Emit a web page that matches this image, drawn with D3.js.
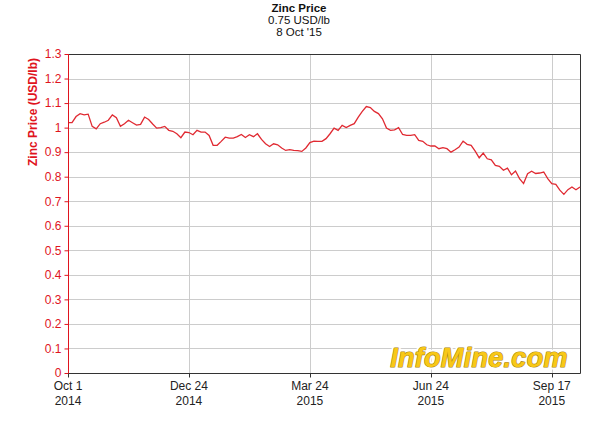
<!DOCTYPE html>
<html lang="en">
<head>
    <meta charset="UTF-8">
    <title>Zinc Price</title>
    <script src="https://cdn.jsdelivr.net/npm/d3@7"></script>
    <style>
        body { margin: 0; background: #fff; }
        text { font-family: "Liberation Sans", Arial, sans-serif; }
    </style>
</head>
<body>
<script>
    // price every second trading day, Oct 1 2014 .. Oct 8 2015
    var prices = [
        1.02, 1.02, 1.045, 1.057, 1.052, 1.055, 1.005, 0.995, 1.016, 1.022,
        1.03, 1.052, 1.04, 1.005, 1.016, 1.03, 1.02, 1.01, 1.013, 1.043,
        1.033, 1.015, 0.998, 1.0, 1.005, 0.989, 0.985, 0.975, 0.959, 0.982,
        0.98, 0.971, 0.989, 0.982, 0.982, 0.968, 0.928, 0.928, 0.944, 0.961,
        0.957, 0.957, 0.963, 0.972, 0.96, 0.971, 0.963, 0.975, 0.952, 0.934,
        0.923, 0.934, 0.93, 0.917, 0.907, 0.91, 0.907, 0.906, 0.903, 0.917,
        0.939, 0.945, 0.944, 0.944, 0.955, 0.975, 0.998, 0.989, 1.009, 1.0,
        1.009, 1.016, 1.043, 1.066, 1.086, 1.082, 1.066, 1.057, 1.036, 0.998,
        0.989, 0.991, 1.0, 0.972, 0.968, 0.968, 0.971, 0.948, 0.944, 0.93,
        0.925, 0.925, 0.914, 0.918, 0.914, 0.90, 0.91, 0.921, 0.945, 0.932,
        0.928, 0.904, 0.877, 0.896, 0.873, 0.869, 0.846, 0.842, 0.826, 0.835,
        0.808, 0.823, 0.792, 0.772, 0.812, 0.822, 0.813, 0.815, 0.819, 0.792,
        0.772, 0.769, 0.745, 0.728, 0.747, 0.758, 0.747, 0.758
    ]
    var tickIndex = [0, 30, 60, 90, 120]
    var tickDay = ['Oct 1', 'Dec 24', 'Mar 24', 'Jun 24', 'Sep 17']
    var tickYear = ['2014', '2014', '2015', '2015', '2015']
    var titleLines = ['Zinc Price', '0.75 USD/lb', "8 Oct '15"]

    var width = 600
    var height = 424
    var plotLeft = 68, plotRight = 580, plotTop = 54, plotBottom = 373
    var red = '#e0141e'

    var svg = d3.select('body')
        .append('svg')
        .attr('width', width)
        .attr('height', height)

    var x = d3.scaleLinear()
        .domain([0, prices.length - 1])
        .range([plotLeft, plotRight])

    var y = d3.scaleLinear()
        .domain([0, 1.3])
        .range([plotBottom, plotTop])

    var yTicks = d3.range(0, 14).map(function (d) { return d / 10 })

    // grid
    svg.append('g')
        .selectAll('line')
        .data(yTicks)
        .enter()
        .append('line')
        .attr('x1', plotLeft).attr('x2', plotRight)
        .attr('y1', function (d) { return Math.round(y(d)) + 0.5 })
        .attr('y2', function (d) { return Math.round(y(d)) + 0.5 })
        .attr('stroke', '#cccccc')

    svg.append('g')
        .selectAll('line')
        .data(tickIndex.slice(1))
        .enter()
        .append('line')
        .attr('x1', function (d) { return Math.round(x(d)) + 0.5 })
        .attr('x2', function (d) { return Math.round(x(d)) + 0.5 })
        .attr('y1', plotTop).attr('y2', plotBottom)
        .attr('stroke', '#cccccc')

    // frame
    svg.append('path')
        .attr('d', 'M' + plotLeft + ',' + (plotTop + 0.5) + 'H' + (plotRight + 0.5) + 'V' + (plotBottom + 0.5) + 'H' + plotLeft)
        .attr('fill', 'none')
        .attr('stroke', '#333')

    // watermark
    function watermark(stroke, strokeWidth) {
        return svg.append('text')
            .attr('x', 479)
            .attr('y', 367)
            .attr('text-anchor', 'middle')
            .attr('font-size', 27)
            .attr('font-weight', 'bold')
            .attr('font-style', 'italic')
            .attr('fill', '#f8c818')
            .attr('stroke', stroke)
            .attr('stroke-width', strokeWidth)
            .attr('stroke-linejoin', 'round')
            .attr('paint-order', 'stroke')
            .style('letter-spacing', '0.3px')
            .text('InfoMine.com')
    }
    watermark('#ffffff', 5)
    watermark('#a88410', 1.1)

    // price line
    var line = d3.line()
        .x(function (d, i) { return x(i) })
        .y(function (d) { return y(d) })

    svg.append('path')
        .datum(prices)
        .attr('d', line)
        .attr('fill', 'none')
        .attr('stroke', '#e02a32')
        .attr('stroke-width', 1.3)

    // y axis
    var yAxis = d3.axisLeft(y)
        .tickValues(yTicks)
        .tickSize(4)
        .tickPadding(3)
        .tickFormat(function (d) { return String(+d.toFixed(1)) })

    var gy = svg.append('g')
        .attr('transform', 'translate(' + (plotLeft + 0.5) + ',0)')
        .call(yAxis)
    gy.select('.domain').attr('stroke', red).attr('d', 'M0,' + plotTop + 'V' + (plotBottom + 1))
    gy.selectAll('.tick line').attr('stroke', red)
    gy.selectAll('.tick text')
        .attr('fill', red)
        .attr('font-size', 12)
        .attr('font-family', '"Liberation Sans", Arial, sans-serif')

    svg.append('text')
        .attr('transform', 'translate(37,58) rotate(-90)')
        .attr('text-anchor', 'end')
        .attr('font-size', 12)
        .attr('font-weight', 'bold')
        .attr('fill', red)
        .text('Zinc Price (USD/lb)')

    // x axis
    var gx = svg.append('g')
        .attr('transform', 'translate(0,' + (plotBottom + 0.5) + ')')
    gx.selectAll('line')
        .data(tickIndex)
        .enter()
        .append('line')
        .attr('x1', function (d) { return Math.round(x(d)) + 0.5 })
        .attr('x2', function (d) { return Math.round(x(d)) + 0.5 })
        .attr('y1', 0).attr('y2', 4)
        .attr('stroke', '#333')

    var labels = gx.selectAll('text')
        .data(tickIndex)
        .enter()
        .append('text')
        .attr('text-anchor', 'middle')
        .attr('font-size', 12)
        .attr('fill', '#222')
    labels.append('tspan')
        .attr('x', function (d) { return x(d) })
        .attr('y', 16)
        .text(function (d, i) { return tickDay[i] })
    labels.append('tspan')
        .attr('x', function (d) { return x(d) })
        .attr('y', 31)
        .text(function (d, i) { return tickYear[i] })

    // title
    svg.append('g')
        .selectAll('text')
        .data(titleLines)
        .enter()
        .append('text')
        .attr('x', 299)
        .attr('y', function (d, i) { return 12 + i * 12 })
        .attr('text-anchor', 'middle')
        .attr('font-size', 11.5)
        .attr('font-weight', function (d, i) { return i === 0 ? 'bold' : 'normal' })
        .attr('fill', '#111')
        .text(function (d) { return d })
</script>
</body>
</html>
